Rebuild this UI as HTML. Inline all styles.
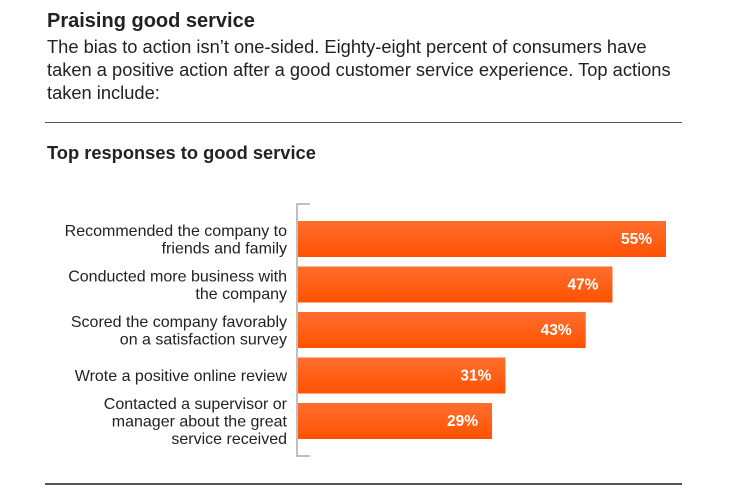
<!DOCTYPE html>
<html><head><meta charset="utf-8"><style>
body{margin:0;width:730px;height:494px;background:#fff;font-family:"Liberation Sans",Arial,sans-serif;color:#222;position:relative;overflow:hidden}
.t{position:absolute;left:47px;top:10px;font-size:20px;font-weight:bold;white-space:nowrap}
.p{position:absolute;left:47px;top:35px;font-size:18.3px;line-height:23px;width:640px}
.rule{position:absolute;left:45px;width:637px;height:1px;background:#555}
.ct{position:absolute;left:47px;top:142px;font-size:18.3px;font-weight:bold}
</style></head><body>
<div class="t">Praising good service</div>
<div class="p">The bias to action isn’t one-sided. Eighty-eight percent of consumers have<br>taken a positive action after a good customer service experience. Top actions<br>taken include:</div>
<div class="rule" style="top:122px"></div>
<div class="ct">Top responses to good service</div>
<svg id="c" width="730" height="494" style="position:absolute;left:0;top:0">
<defs><linearGradient id="g" x1="0" y1="0" x2="0" y2="1"><stop offset="0" stop-color="#ff6e2e"/><stop offset="1" stop-color="#ff5200"/></linearGradient></defs>
</svg>
<div class="rule" style="top:483px;height:2px"></div>
<script>
const categories=[["Recommended the company to","friends and family"],["Conducted more business with","the company"],["Scored the company favorably","on a satisfaction survey"],["Wrote a positive online review"],["Contacted a supervisor or","manager about the great","service received"]];
const values=[55,47,43,31,29];
const labels=["55%","47%","43%","31%","29%"];
const svg=document.getElementById('c');
const NS='http://www.w3.org/2000/svg';
const x0=298,scale=(666-298)/55;
const xs=v=>x0+v*scale;
const yTop=i=>221+i*45.5, bh=36;
function mk(t,a){const e=document.createElementNS(NS,t);for(const k in a)e.setAttribute(k,a[k]);svg.appendChild(e);return e;}
const ax=mk('path',{d:'M310 204H297V456H310',fill:'none',stroke:'#aaa','stroke-width':1.5});


values.forEach((v,i)=>{
 const y=yTop(i);
 const r=mk('rect',{x:x0,y:y,width:xs(v)-x0,height:bh,fill:'url(#g)'});
 
 
 const t=mk('text',{x:xs(v)-14,y:y+bh/2+5,'text-anchor':'end',fill:'#fff','font-size':15.5,'font-weight':'bold'});
 t.textContent=labels[i];
 
 
 const lines=categories[i];const lh=17.5;const cy=y+bh/2;
 lines.forEach((l,j)=>{
  const tt=mk('text',{x:287,y:cy-(lines.length-1)*lh/2+j*lh+5.5,'text-anchor':'end',fill:'#222','font-size':16});
  tt.textContent=l;
  
  
 });
});
</script>
</body></html>
